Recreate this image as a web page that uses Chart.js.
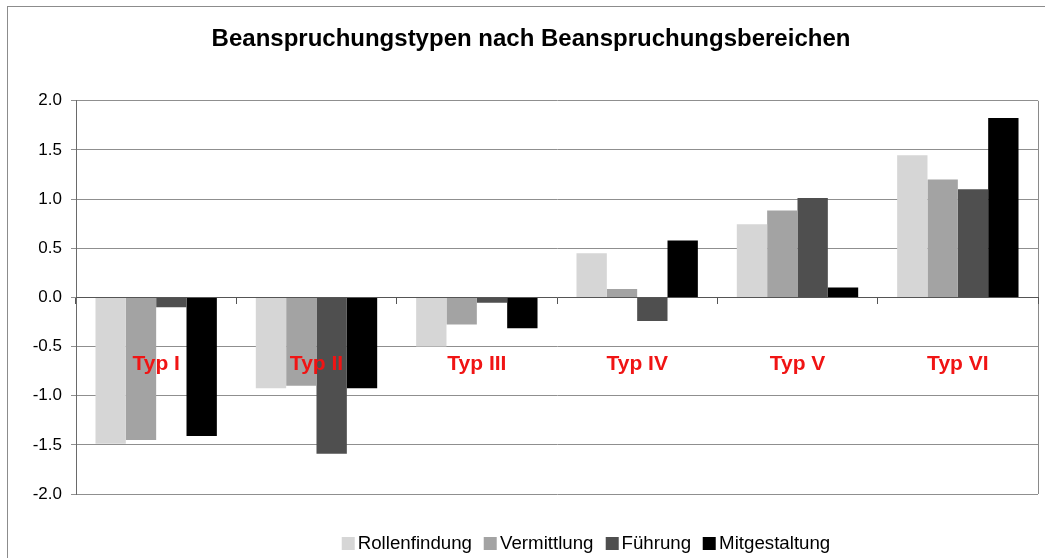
<!DOCTYPE html>
<html lang="de">
<head>
<meta charset="utf-8">
<title>Beanspruchungstypen nach Beanspruchungsbereichen</title>
<script src="https://cdn.jsdelivr.net/npm/chart.js@4.4.1/dist/chart.umd.min.js"></script>
<style>
  html, body { margin: 0; padding: 0; background: #fff; overflow: hidden; }
  #wrap { position: relative; width: 1045px; height: 558px; }
  #frame {
    position: absolute; left: 7px; top: 6px; width: 1100px; height: 600px;
    border: 1px solid #8c8c8c; box-sizing: border-box;
  }
  #chart { position: absolute; left: 0; top: 0; }
  #legend {
    position: absolute; left: 586px; top: 532px; transform: translateX(-50%);
    display: flex; white-space: nowrap; line-height: 22px;
    font-family: 'Liberation Sans', Arial, sans-serif; font-size: 18.7px; color: #000;
  }
  #legend .item { display: flex; align-items: center; margin: 0 6px; }
  #legend .box { width: 13px; height: 13px; margin-right: 3px; }
</style>
</head>
<body>
<div id="wrap">
  <div id="frame"></div>
  <canvas id="chart" width="1045" height="558"></canvas>
  <div id="legend"></div>
</div>
<script>
// Beanspruchungstypen (categories) and mean scores per Beanspruchungsbereich
const TYPES = ['Typ I', 'Typ II', 'Typ III', 'Typ IV', 'Typ V', 'Typ VI'];
const SERIES_NAMES = ['Rollenfindung', 'Vermittlung', 'Führung', 'Mitgestaltung'];
const SERIES_COLORS = ['#d6d6d6', '#a3a3a3', '#4f4f4f', '#000000'];

const rollenfindung = [-1.49, -0.925, -0.50, 0.45, 0.745, 1.445];
const vermittlung   = [-1.45, -0.90, -0.275, 0.085, 0.885, 1.20];
const fuehrung      = [-0.10, -1.59, -0.055, -0.24, 1.01, 1.10];
const mitgestaltung = [-1.41, -0.925, -0.315, 0.58, 0.10, 1.825];

const Y_MIN = -2, Y_MAX = 2, Y_STEP = 0.5;

const FONT = "'Liberation Sans', Arial, sans-serif";

// outline of the plot area (right edge is not covered by any axis/grid)
const plotBorder = {
  id: 'plotBorder',
  beforeDatasetsDraw(chart) {
    const { ctx, chartArea: a } = chart;
    ctx.save();
    ctx.strokeStyle = '#8a8a8a';
    ctx.lineWidth = 1;
    ctx.beginPath();
    ctx.moveTo(Math.round(a.right) + 0.5, a.top);
    ctx.lineTo(Math.round(a.right) + 0.5, a.bottom);
    ctx.stroke();
    ctx.restore();
  },
};

// legend rendered as html from the chart's own legend items
const htmlLegend = {
  id: 'htmlLegend',
  afterUpdate(chart) {
    const el = document.getElementById('legend');
    el.innerHTML = '';
    const items = chart.options.plugins.legend.labels.generateLabels(chart);
    items.forEach(it => {
      const row = document.createElement('span');
      row.className = 'item';
      const box = document.createElement('span');
      box.className = 'box';
      box.style.background = it.fillStyle;
      const txt = document.createElement('span');
      txt.textContent = it.text;
      row.appendChild(box);
      row.appendChild(txt);
      el.appendChild(row);
    });
  },
};

const datasets = [rollenfindung, vermittlung, fuehrung, mitgestaltung].map((d, i) => ({
  label: SERIES_NAMES[i],
  data: d,
  backgroundColor: SERIES_COLORS[i],
  borderWidth: 0,
  categoryPercentage: 0.757,
  barPercentage: 1.0,
}));

new Chart(document.getElementById('chart'), {
  type: 'bar',
  data: { labels: TYPES, datasets },
  plugins: [plotBorder, htmlLegend],
  options: {
    responsive: false,
    animation: false,
    layout: { padding: { left: 24, right: 7, top: 0, bottom: 64 } },
    plugins: {
      legend: { display: false },
      tooltip: { enabled: false },
      title: {
        display: true,
        text: 'Beanspruchungstypen nach Beanspruchungsbereichen',
        color: '#000',
        font: { family: FONT, size: 24, weight: 'bold' },
        padding: { top: 25, bottom: 47 },
      },
    },
    scales: {
      x: {
        // category axis sits on the zero line, labels drawn over the bars
        position: { y: 0 },
        grid: { display: true, drawOnChartArea: false, drawTicks: true, tickLength: 6, color: '#555', offset: true, z: 1 },
        border: { display: true, color: '#555', width: 1, z: 1 },
        ticks: {
          z: 1,
          color: '#f01414',
          padding: 48,
          font: { family: FONT, size: 21, weight: 'bold' },
        },
      },
      y: {
        min: Y_MIN,
        max: Y_MAX,
        afterFit(scale) { scale.width = 52; },
        grid: { color: '#8f8f8f', lineWidth: 1, drawTicks: true, tickLength: 5 },
        border: { display: true, color: '#6a6a6a', width: 1 },
        ticks: {
          stepSize: Y_STEP,
          color: '#000',
          padding: 9,
          font: { family: FONT, size: 17 },
          callback: v => v.toFixed(1),
        },
      },
    },
  },
});
</script>
</body>
</html>
